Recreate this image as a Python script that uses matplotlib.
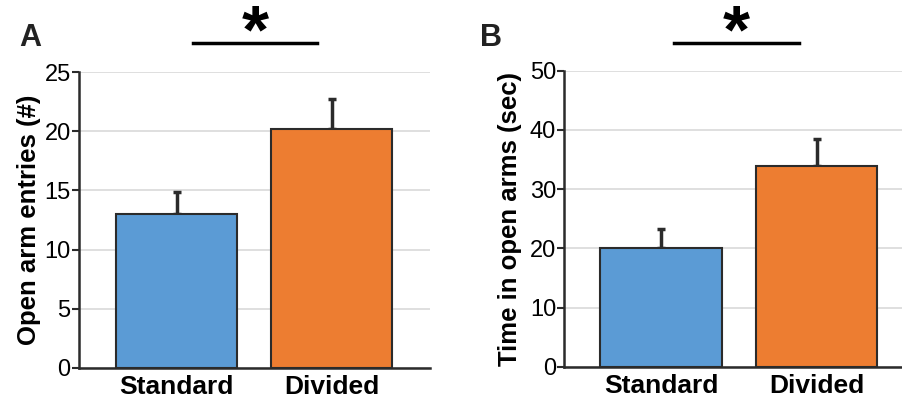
import matplotlib
import matplotlib.pyplot as plt

plt.rcParams['font.family'] = ['Liberation Sans', 'DejaVu Sans']

groups = ['Standard', 'Divided']
entries = [13.0, 20.15]
entries_err = [1.9, 2.6]
time_open = [20.1, 33.95]
time_open_err = [3.2, 4.45]

colors = ['#5b9bd5', '#ed7d31']
edge = '#2b2b2b'

fig = plt.figure(figsize=(9.03, 4.01), dpi=100)
axA = fig.add_axes([0.0875, 0.0823, 0.3887, 0.738])
axB = fig.add_axes([0.625, 0.0855, 0.375, 0.738])


def draw(ax, vals, errs, ymax, ystep, ylabel, xlim, labx):
    x = range(len(groups))
    ax.bar(x, vals, width=0.78, color=colors, edgecolor=edge, linewidth=1.5, zorder=3)
    ax.errorbar(x, vals, yerr=[[0, 0], errs], fmt='none', ecolor=edge,
                elinewidth=2.5, capsize=2.8, capthick=2.5, zorder=2)
    ax.set_ylim(0, ymax)
    ax.set_xlim(*xlim)
    ax.set_yticks(range(0, ymax + 1, ystep))
    ax.set_xticks(list(x))
    ax.set_xticklabels(groups, fontsize=19, fontweight='bold')
    ax.tick_params(axis='x', length=0, pad=5)
    ax.tick_params(axis='y', labelsize=17, length=5, width=1.5, color=edge, pad=1)
    ax.set_ylabel(ylabel, fontsize=18.5, fontweight='bold')
    ax.yaxis.set_label_coords(labx, 0.5)
    ax.yaxis.grid(True, color='#d9d9d9', linewidth=1.2, zorder=0)
    ax.set_axisbelow(True)
    for s in ['top', 'right']:
        ax.spines[s].set_visible(False)
    for s in ['left', 'bottom']:
        ax.spines[s].set_color(edge)
        ax.spines[s].set_linewidth(1.8)


draw(axA, entries, entries_err, 25, 5, 'Open arm entries (#)', (-0.629, 1.635), -0.107)
draw(axB, time_open, time_open_err, 50, 10, 'Time in open arms (sec)', (-0.621, 1.554), -0.124)

# significance bars (figure coordinates)
for x0, x1, xs in [(193, 317, 255), (674, 799, 736)]:
    fig.add_artist(plt.Line2D([x0 / 903, x1 / 903], [1 - 43 / 401, 1 - 43 / 401],
                              color='black', linewidth=2.5))
    fig.text(xs / 903, 1 - 52 / 401, '*', fontsize=50, fontweight='bold',
             ha='center', va='baseline')

fig.text(30 / 903, 1 - 38 / 401, 'A', fontsize=22, fontweight='bold', ha='center', va='center', color='#222222')
fig.text(491 / 903, 1 - 38 / 401, 'B', fontsize=22, fontweight='bold', ha='center', va='center', color='#222222')

fig.savefig('out.png', dpi=100)
